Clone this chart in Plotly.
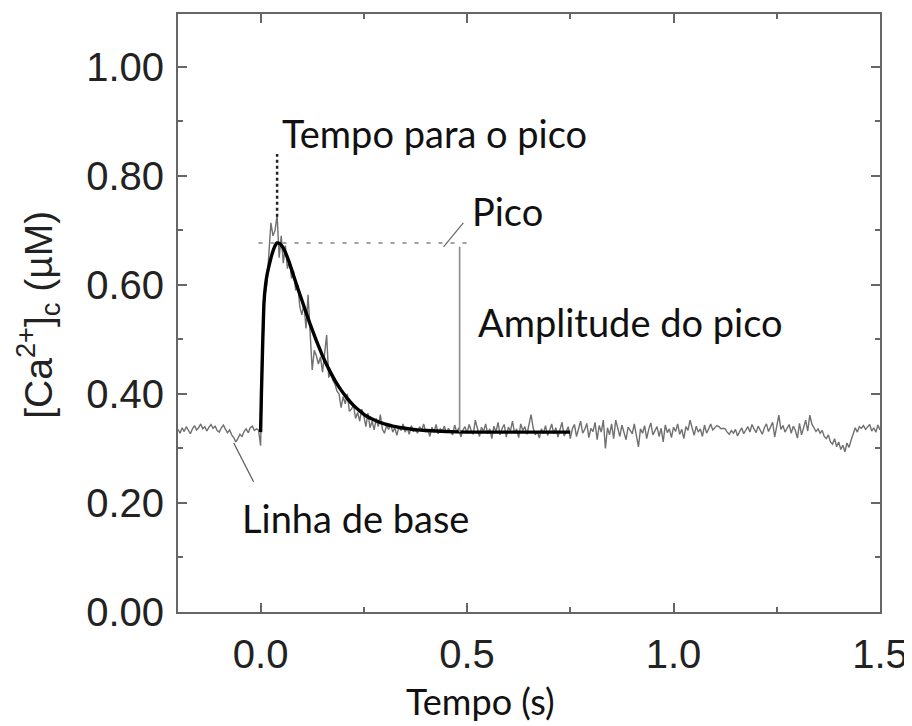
import numpy as np
import plotly.graph_objects as go

# ---------------- data ----------------
t_start = -0.2
t_step = 0.005

# raw (gray) trace, sampled every 5 ms from -0.2 s to 1.5 s
raw_baseline = [0.335,0.328,0.338,0.331,0.340,0.333,0.327,0.336,0.342,0.334,
                0.338,0.345,0.336,0.340,0.332,0.339,0.344,0.337,0.341,0.333,
                0.330,0.338,0.343,0.335,0.329,0.334,0.325,0.320,0.312,0.318,
                0.326,0.322,0.331,0.336,0.329,0.338,0.341,0.333,0.336,0.334]
raw_transient = [0.305,0.470,0.580,0.600,0.660,0.714,0.690,0.700,0.728,0.650,
                 0.690,0.640,0.672,0.630,0.645,0.612,0.625,0.590,0.600,0.560,
                 0.545,0.565,0.520,0.582,0.512,0.444,0.480,0.470,0.455,0.468,
                 0.440,0.470,0.508,0.430,0.440,0.425,0.418,0.405,0.400,0.375,
                 0.395,0.382,0.400,0.368,0.372,0.380,0.355,0.366,0.350,0.372,
                 0.360,0.340,0.365,0.338,0.350,0.334,0.355,0.340,0.362,0.335,
                 0.328,0.342,0.335,0.345,0.330,0.338,0.324,0.340,0.333,0.345,
                 0.330]
raw_tail = [0.338,0.326,0.342,0.331,0.336,0.328,0.340,0.333,0.345,0.330,
            0.335,0.322,0.339,0.330,0.344,0.327,0.336,0.331,0.341,0.329,
            0.337,0.332,0.325,0.343,0.330,0.338,0.321,0.334,0.340,0.328,
            0.344,0.333,0.326,0.352,0.335,0.322,0.339,0.331,0.345,0.327,
            0.336,0.318,0.341,0.330,0.348,0.325,0.337,0.344,0.321,0.339,
            0.332,0.350,0.328,0.336,0.320,0.345,0.333,0.340,0.326,0.347,
            0.362,0.338,0.325,0.331,0.319,0.336,0.328,0.342,0.324,0.333,
            0.345,0.327,0.338,0.321,0.334,0.348,0.323,0.330,0.340,0.318,
            0.336,0.344,0.322,0.339,0.350,0.328,0.335,0.346,0.320,0.337,
            0.331,0.348,0.316,0.342,0.330,0.352,0.300,0.338,0.325,0.345,
            0.318,0.352,0.335,0.322,0.343,0.330,0.316,0.339,0.333,0.327,
            0.345,0.320,0.303,0.336,0.328,0.342,0.318,0.335,0.347,0.325,
            0.332,0.340,0.322,0.337,0.312,0.343,0.329,0.336,0.320,0.339,
            0.331,0.345,0.326,0.335,0.318,0.340,0.333,0.352,0.338,0.324,
            0.341,0.330,0.336,0.322,0.343,0.328,0.336,0.345,0.334,0.338,
            0.342,0.340,0.336,0.337,0.336,0.330,0.326,0.333,0.328,0.335,
            0.323,0.331,0.338,0.327,0.335,0.340,0.330,0.344,0.336,0.329,
            0.341,0.333,0.326,0.338,0.345,0.331,0.339,0.348,0.321,0.345,
            0.361,0.335,0.342,0.330,0.337,0.344,0.328,0.341,0.333,0.319,
            0.346,0.325,0.338,0.352,0.332,0.361,0.345,0.338,0.331,0.336,
            0.328,0.333,0.322,0.318,0.325,0.312,0.308,0.318,0.303,0.312,
            0.298,0.306,0.294,0.310,0.302,0.315,0.325,0.338,0.330,0.340,
            0.337,0.342,0.335,0.340,0.344,0.332,0.338,0.330,0.343,0.334]

# fitted (black) curve
fit_t = [0.0, 0.002, 0.005, 0.008, 0.012, 0.016, 0.022, 0.028, 0.034, 0.040,
         0.046, 0.053, 0.060, 0.070, 0.080, 0.090, 0.100, 0.110, 0.120, 0.135,
         0.150, 0.165, 0.180, 0.195, 0.210, 0.225, 0.240, 0.255, 0.270, 0.285,
         0.300, 0.320, 0.340, 0.360, 0.380, 0.400, 0.450, 0.500, 0.600, 0.750]
fit_v = [0.330, 0.400, 0.490, 0.565, 0.600, 0.620, 0.640, 0.657, 0.670, 0.677,
         0.676, 0.670, 0.660, 0.640, 0.617, 0.594, 0.572, 0.550, 0.528, 0.498,
         0.470, 0.446, 0.425, 0.407, 0.392, 0.379, 0.369, 0.360, 0.354, 0.349,
         0.345, 0.341, 0.338, 0.336, 0.334, 0.333, 0.331, 0.330, 0.330, 0.330]

# annotation markers
t_peak = 0.040
v_peak = 0.677
v_base = 0.330
t_amp = 0.482

x_ticks = [0.0, 0.5, 1.0, 1.5]
y_ticks = [0.0, 0.2, 0.4, 0.6, 0.8, 1.0]

raw_v = raw_baseline + raw_transient + raw_tail
raw_t = [round(t_start + i * t_step, 4) for i in range(len(raw_v))]

# ---------------- figure ----------------
fig = go.Figure()
fig.add_trace(go.Scatter(x=raw_t, y=raw_v, mode="lines",
                         line=dict(color="#707070", width=1.4), hoverinfo="skip"))
fig.add_trace(go.Scatter(x=fit_t, y=fit_v, mode="lines",
                         line=dict(color="#000000", width=3.4, shape="spline", smoothing=0.3),
                         hoverinfo="skip"))

# dotted vertical (time to peak)
fig.add_trace(go.Scatter(x=[t_peak, t_peak], y=[0.725, 0.84], mode="lines",
                         line=dict(color="#222", width=2.5, dash="dot")))
# dotted horizontal (peak level)
fig.add_trace(go.Scatter(x=[-0.005, 0.515], y=[v_peak, v_peak], mode="lines",
                         line=dict(color="#a0a0a0", width=2, dash="4px,8px")))
# amplitude line
fig.add_trace(go.Scatter(x=[t_amp, t_amp], y=[0.670, v_base], mode="lines",
                         line=dict(color="#8a8a8a", width=1.6)))
# pico leader
fig.add_trace(go.Scatter(x=[0.443, 0.491], y=[0.670, 0.714], mode="lines",
                         line=dict(color="#666", width=1.2)))
# baseline leader
fig.add_trace(go.Scatter(x=[-0.065, -0.017], y=[0.310, 0.239], mode="lines",
                         line=dict(color="#555", width=1.2)))

lab_font = dict(family="Lato, Noto Sans, sans-serif", size=38, color="#111")
annots = [
    ("Tempo para o pico", 0.048, 0.879),
    ("Pico", 0.507, 0.736),
    ("Amplitude do pico", 0.522, 0.532),
    ("Linha de base", -0.051, 0.172),
]
for txt, ax_, ay_ in annots:
    fig.add_annotation(x=ax_, y=ay_, text=txt, showarrow=False, xanchor="left",
                       yanchor="middle", font=lab_font)

# axis titles as annotations
fig.add_annotation(x=0.532, xref="x", y=-0.148, yref="paper", text="Tempo (s)",
                   showarrow=False, xanchor="center", yanchor="middle",
                   font=dict(family="Lato, Noto Sans, sans-serif", size=36, color="#111"))
fig.add_annotation(x=-0.1994, xref="paper", y=0.497, yref="paper",
                   text="[Ca<sup>2+</sup>]<sub>c</sub> (µM)", textangle=-90,
                   showarrow=False, xanchor="center", yanchor="middle",
                   font=dict(family="Liberation Sans, Arial, sans-serif", size=39, color="#222"))

axis_common = dict(showline=True, linecolor="#666", linewidth=2, mirror="ticks",
                   ticks="inside", ticklen=9, tickwidth=1.5, tickcolor="#666",
                   showgrid=False, zeroline=False, automargin=False,
                   tickfont=dict(family="Liberation Sans, Arial, sans-serif", size=40, color="#222"))

# the page body adds an 8 px offset, so the figure is 8 px smaller and shifted
fig.update_layout(
    width=904, height=718,
    margin=dict(l=170, r=32, t=6, b=114),
    paper_bgcolor="white", plot_bgcolor="white",
    showlegend=False,
    xaxis=dict(range=[-0.2, 1.5], tickvals=x_ticks, tickformat=".1f", ticklabelstandoff=6,
               minor=dict(ticks="inside", ticklen=5, tickcolor="#666", dtick=0.25, tick0=0),
               **axis_common),
    yaxis=dict(range=[0, 1.097], tickvals=y_ticks, tickformat=".2f", ticklabelstandoff=4,
               minor=dict(ticks="inside", ticklen=5, tickcolor="#666", dtick=0.1, tick0=0),
               **axis_common),
)

fig.write_html("out.html")
